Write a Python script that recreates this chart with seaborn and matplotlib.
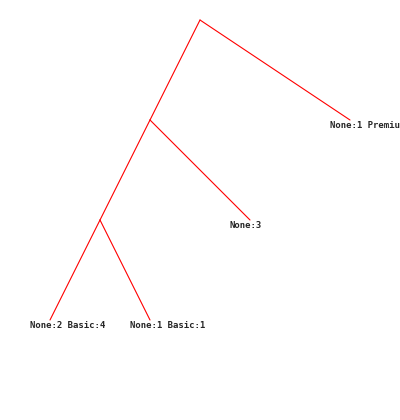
import matplotlib
matplotlib.use("Agg")
import matplotlib.pyplot as plt
import seaborn as sns
import pandas as pd

# tree nodes (layout position in pixels) and leaf labels
node_x = [200, 150, 350, 100, 250, 50, 150]
node_y = [20, 120, 120, 220, 220, 320, 320]
parents = [None, 0, 0, 1, 1, 3, 3]
labels = ["", "", "None:1 Premium:3", "", "None:3", "None:2 Basic:4", "None:1 Basic:1"]

sns.set_style("white")
fig = plt.figure(figsize=(4, 4.2), dpi=100)
ax = fig.add_axes([0, 0, 1, 1])

rows = []
for i, p in enumerate(parents):
    if p is None:
        continue
    rows.append({"edge": i, "x": node_x[p], "y": node_y[p]})
    rows.append({"edge": i, "x": node_x[i], "y": node_y[i]})
edges = pd.DataFrame(rows)
sns.lineplot(data=edges, x="x", y="y", units="edge", estimator=None,
             sort=False, color="red", linewidth=0.8, ax=ax)

for x, y, lab in zip(node_x, node_y, labels):
    if lab:
        ax.text(x - 20, y + 5, lab, family="DejaVu Sans Mono", fontsize=6.5,
                fontweight="bold", va="center", ha="left", clip_on=True)

ax.set_xlim(0, 400)
ax.set_ylim(420, 0)
ax.axis("off")
fig.savefig("out.png", dpi=100)
